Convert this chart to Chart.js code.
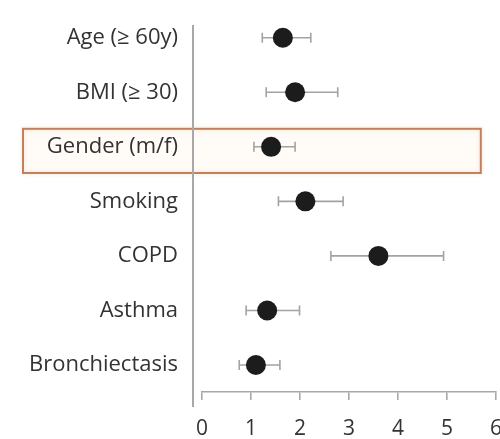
<!DOCTYPE html>
<html>
<head>
<meta charset="utf-8">
<script src="https://cdn.jsdelivr.net/npm/chart.js@4"></script>
<style>
  html, body { margin: 0; padding: 0; background: #fff; }
  #wrap { width: 500px; height: 439px; }
</style>
</head>
<body>
<div id="wrap"><canvas id="chart" width="500" height="439"></canvas></div>
<script>
// Risk factors and their odds ratios with 95% confidence intervals
const categories = ['Age (≥ 60y)', 'BMI (≥ 30)', 'Gender (m/f)', 'Smoking', 'COPD', 'Asthma', 'Bronchiectasis'];
const oddsRatio  = [1.65, 1.90, 1.41, 2.11, 3.60, 1.33, 1.10];
const ciLower    = [1.23, 1.31, 1.06, 1.56, 2.63, 0.90, 0.76];
const ciUpper    = [2.22, 2.77, 1.90, 2.88, 4.93, 1.99, 1.59];
const xTicks     = [0, 1, 2, 3, 4, 5, 6];
const highlighted = 'Gender (m/f)';

const AXIS_GREY = '#a8a8a8';
const TEXT_GREY = '#333333';
const FONT = '"Open Sans", "Noto Sans", sans-serif';

// Horizontal whiskers with end caps, drawn under the markers
const errorBars = {
  id: 'errorBars',
  beforeDatasetsDraw(chart) {
    const { ctx, scales: { x, y } } = chart;
    ctx.save();
    ctx.strokeStyle = '#a3a3a3';
    ctx.lineWidth = 1.6;
    categories.forEach((_, i) => {
      const py = y.getPixelForValue(i);
      const x0 = x.getPixelForValue(ciLower[i]);
      const x1 = x.getPixelForValue(ciUpper[i]);
      ctx.beginPath();
      ctx.moveTo(x0, py); ctx.lineTo(x1, py);
      ctx.moveTo(x0, py - 5); ctx.lineTo(x0, py + 5);
      ctx.moveTo(x1, py - 5); ctx.lineTo(x1, py + 5);
      ctx.stroke();
    });
    ctx.restore();
  }
};

// Free-standing vertical axis line and the framed row
const decorations = {
  id: 'decorations',
  beforeDraw(chart) {
    const { ctx, chartArea, scales: { x, y } } = chart;
    ctx.save();
    // highlight frame around the selected row
    const idx = categories.indexOf(highlighted);
    const top = y.getPixelForValue(idx - 0.33);
    const bottom = y.getPixelForValue(idx + 0.48);
    const left = 23;
    const right = x.getPixelForValue(5.69);
    ctx.fillStyle = 'rgba(255, 246, 238, 0.45)';
    ctx.fillRect(left, top, right - left, bottom - top);
    ctx.shadowColor = 'rgba(240, 170, 120, 0.4)';
    ctx.shadowBlur = 4;
    ctx.strokeStyle = '#c0815f';
    ctx.lineWidth = 2;
    ctx.strokeRect(left, top, right - left, bottom - top);
    ctx.restore();

    // vertical axis line, running a little past the horizontal axis
    ctx.save();
    ctx.strokeStyle = AXIS_GREY;
    ctx.lineWidth = 2;
    const ax = chartArea.left - 9;
    ctx.beginPath();
    ctx.moveTo(ax, chartArea.top);
    ctx.lineTo(ax, chartArea.bottom + 15);
    ctx.stroke();
    ctx.restore();
  }
};

new Chart(document.getElementById('chart'), {
  type: 'scatter',
  data: {
    datasets: [{
      data: oddsRatio.map((v, i) => ({ x: v, y: i })),
      clip: false,
      pointRadius: 10,
      pointHoverRadius: 10,
      pointBackgroundColor: '#1c1c1c',
      pointBorderColor: '#1c1c1c',
      pointBorderWidth: 0
    }]
  },
  options: {
    responsive: false,
    animation: false,
    layout: { autoPadding: false, padding: { top: 25, right: 4, left: 0, bottom: 0 } },
    plugins: { legend: { display: false }, tooltip: { enabled: false } },
    scales: {
      x: {
        type: 'linear',
        min: 0,
        max: 6,
        afterBuildTicks(scale) { scale.ticks = xTicks.map(v => ({ value: v })); },
        afterFit(scale) {
          scale.height = 47;
          scale.paddingLeft = 0;
          scale.paddingRight = 0;
        },
        grid: { drawOnChartArea: false, drawTicks: true, tickLength: 8, color: AXIS_GREY, lineWidth: 1.6 },
        border: { display: true, color: AXIS_GREY, width: 1.6 },
        ticks: { color: TEXT_GREY, font: { family: FONT, size: 21 }, padding: 16, maxRotation: 0 }
      },
      y: {
        type: 'linear',
        reverse: true,
        min: -0.233,
        max: 6.495,
        afterBuildTicks(scale) { scale.ticks = categories.map((_, i) => ({ value: i })); },
        afterFit(scale) {
          scale.width = 202;
          scale.paddingTop = 0;
          scale.paddingBottom = 0;
        },
        grid: { display: false, drawTicks: false },
        border: { display: false },
        ticks: {
          color: TEXT_GREY,
          font: { family: FONT, size: 22 },
          padding: 24,
          callback: (v) => categories[v]
        }
      }
    }
  },
  plugins: [decorations, errorBars]
});
</script>
</body>
</html>
